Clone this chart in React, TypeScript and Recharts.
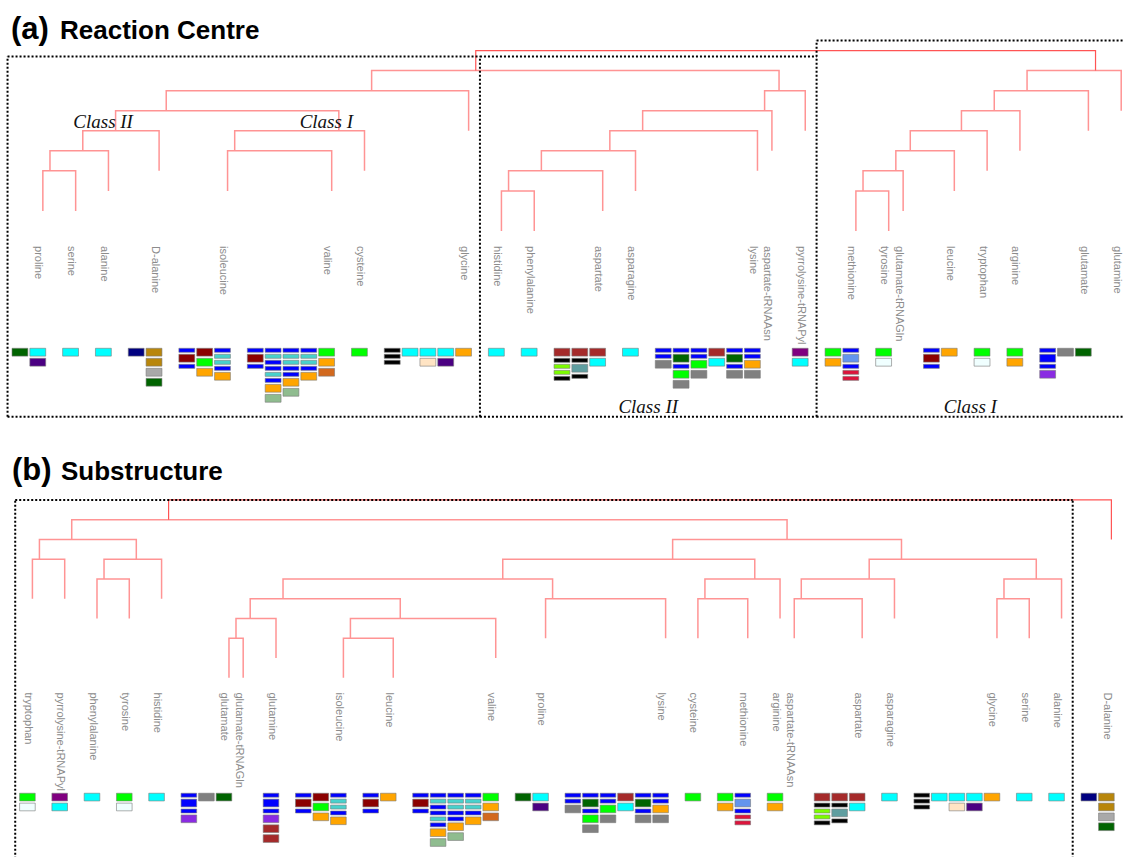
import React from 'react';
import { ComposedChart, XAxis, YAxis, Scatter, ReferenceArea } from 'recharts';

const WIDTH = 1124;
const HEIGHT = 857;

// colour codes used in the sequence boxes
const PALETTE: Record<string, string> = {
  lime: '#00ff00', cyan: '#00ffff', dkgreen: '#006400', indigo: '#4b0082', navy: '#000080',
  gold: '#b8860b', dgray: '#a9a9a9', gray: '#808080', blue: '#0000ff', dkred: '#8b0000',
  turq: '#48d1cc', orange: '#ffa500', sage: '#8fbc8f', choc: '#d2691e', black: '#000000',
  bisque: '#ffe4c4', purple: '#800080', brown: '#a52a2a', lawn: '#7cfc00', cadet: '#5f9ea0',
  cblue: '#6495ed', crimson: '#dc143c', azure: '#f0ffff', violet: '#8a2be2',
};

// one string per column, top to bottom; "~" marks a half-height box
const BOX_STACKS: Record<string, string[]> = {
  proline: ['dkgreen', 'cyan indigo'],
  serine: ['cyan'],
  alanine: ['cyan'],
  'D-alanine': ['navy', 'gold gold dgray dkgreen'],
  isoleucine: ['~blue dkred ~blue', 'dkred lime orange', '~blue ~turq ~turq ~blue orange'],
  valine: [
    '~blue dkred ~blue',
    '~blue ~turq ~blue ~blue ~turq ~blue orange sage',
    '~blue ~turq ~turq ~blue ~blue orange sage',
    '~blue ~turq ~turq ~blue orange',
    'lime orange choc',
  ],
  cysteine: ['lime'],
  glycine: ['~black ~black ~black', 'cyan', 'cyan bisque', 'cyan indigo', 'orange'],
  histidine: ['cyan'],
  phenylalanine: ['cyan'],
  aspartate: ['brown ~black ~lawn ~lawn ~black', 'brown ~black cadet ~black', 'brown cyan'],
  asparagine: ['cyan'],
  lysine: [
    '~blue ~blue gray',
    '~blue dkgreen ~blue lime gray',
    '~blue ~blue lime gray',
    'brown cyan',
    '~blue dkgreen ~blue gray',
    '~blue ~blue orange gray',
  ],
  'aspartate-tRNAAsn': [],
  'pyrrolysine-tRNAPyl': ['purple cyan'],
  methionine: ['lime orange', '~blue cblue ~blue ~crimson ~crimson'],
  tyrosine: ['lime azure'],
  'glutamate-tRNAGln': [],
  leucine: ['~blue dkred ~blue', 'orange'],
  tryptophan: ['lime azure'],
  arginine: ['lime orange'],
  glutamate: ['~blue blue ~blue violet', 'gray', 'dkgreen'],
  glutamine: ['~blue blue ~blue violet brown brown'],
};

const reactionOrder = [
  'proline', 'serine', 'alanine', 'D-alanine', 'isoleucine', 'valine', 'cysteine', 'glycine',
  'histidine', 'phenylalanine', 'aspartate', 'asparagine', 'lysine', 'aspartate-tRNAAsn',
  'pyrrolysine-tRNAPyl', 'methionine', 'tyrosine', 'glutamate-tRNAGln', 'leucine', 'tryptophan',
  'arginine', 'glutamate', 'glutamine',
];

// [left, right, height]; "#k" refers to the k-th merge
const reactionMerges: [string, string, number][] = [
  ['proline', 'serine', 3],
  ['#0', 'alanine', 4],
  ['#1', 'D-alanine', 5],
  ['isoleucine', 'valine', 4],
  ['#3', 'cysteine', 5],
  ['#2', '#4', 6],
  ['#5', 'glycine', 7],
  ['histidine', 'phenylalanine', 2],
  ['#7', 'aspartate', 3],
  ['#8', 'asparagine', 4],
  ['#9', 'lysine', 5],
  ['#10', 'aspartate-tRNAAsn', 6],
  ['#11', 'pyrrolysine-tRNAPyl', 7],
  ['#6', '#12', 8],
  ['methionine', 'tyrosine', 2],
  ['#14', 'glutamate-tRNAGln', 3],
  ['#15', 'leucine', 4],
  ['#16', 'tryptophan', 5],
  ['#17', 'arginine', 6],
  ['#18', 'glutamate', 7],
  ['#19', 'glutamine', 8],
  ['#13', '#20', 9],
];

const substructureOrder = [
  'tryptophan', 'pyrrolysine-tRNAPyl', 'phenylalanine', 'tyrosine', 'histidine', 'glutamate',
  'glutamate-tRNAGln', 'glutamine', 'isoleucine', 'leucine', 'valine', 'proline', 'lysine',
  'cysteine', 'methionine', 'arginine', 'aspartate-tRNAAsn', 'aspartate', 'asparagine',
  'glycine', 'serine', 'alanine', 'D-alanine',
];

const substructureMerges: [string, string, number][] = [
  ['tryptophan', 'pyrrolysine-tRNAPyl', 6],
  ['phenylalanine', 'tyrosine', 5],
  ['#1', 'histidine', 6],
  ['#0', '#2', 7],
  ['glutamate', 'glutamate-tRNAGln', 2],
  ['#4', 'glutamine', 3],
  ['isoleucine', 'leucine', 2],
  ['#6', 'valine', 3],
  ['#5', '#7', 4],
  ['proline', 'lysine', 4],
  ['#8', '#9', 5],
  ['cysteine', 'methionine', 4],
  ['#11', 'arginine', 5],
  ['#10', '#12', 6],
  ['aspartate-tRNAAsn', 'aspartate', 4],
  ['#14', 'asparagine', 5],
  ['glycine', 'serine', 4],
  ['#16', 'alanine', 5],
  ['#15', '#17', 6],
  ['#13', '#18', 7],
  ['#3', '#19', 8],
  ['#20', 'D-alanine', 9],
];

// layout, x in column steps, y in tree levels
const BOX_W = 0.89;
const GROUP_STEP = 1.84;
const EMPTY_STEP = 0.84;
const EMPTY_LINE = 1.54;
const LINE_OFFSET = 0.73;
const SPLIT_OFFSET = 0.4; // stem sits just right of the left subtree's last leaf
const LEAF_DROP = 2;
const LABEL_LEVEL = -0.75;
const STACK_TOP = -5.85;
const FULL_H = 0.39;
const THIN_H = 0.2;
const FULL_PITCH = 0.5;
const THIN_PITCH = 0.3;

const LINK_COLOR = '#ff9494';
const ROOT_COLOR = '#ff5454';
const SANS = '"Liberation Sans", Arial, Helvetica, sans-serif';
const SERIF = '"Liberation Serif", "Times New Roman", serif';

type Pt = { x: number; y: number };
type Geom = { top: number; height: number; x0: number; colPx: number; base: number; levelPx: number };
type Frame = { first: string; last: string; top: number; note?: string };
type NodeNote = { merge: number; text: string; dx: number; dy: number };

function buildPanel(order: string[], merges: [string, string, number][]) {
  const leafX: Record<string, number> = {};
  const span: Record<string, [number, number]> = {};
  const cols: { x: number; stack: string }[] = [];
  let cursor = 0;
  let lastCol = 0;
  order.forEach((name) => {
    const stacks = BOX_STACKS[name] ?? [];
    if (!stacks.length) {
      leafX[name] = lastCol + EMPTY_LINE;
      cursor += EMPTY_STEP;
      return;
    }
    stacks.forEach((stack, i) => cols.push({ x: cursor + i, stack }));
    lastCol = cursor + stacks.length - 1;
    span[name] = [cursor, lastCol + BOX_W];
    leafX[name] = lastCol + LINE_OFFSET;
    cursor = lastCol + GROUP_STEP;
  });

  const nodes: { x: number; h: number; edge: number }[] = [];
  const links: { points: Pt[]; root: boolean }[] = [];
  merges.forEach(([a, b, h], i) => {
    const end = (ref: string) => {
      if (ref.startsWith('#')) {
        const n = nodes[Number(ref.slice(1))];
        return { x: n.x, y: n.h, edge: n.edge };
      }
      return { x: leafX[ref], y: h - LEAF_DROP, edge: leafX[ref] };
    };
    const l = end(a);
    const r = end(b);
    nodes.push({ x: l.edge + SPLIT_OFFSET, h, edge: r.edge });
    links.push({
      points: [{ x: l.x, y: l.y }, { x: l.x, y: h }, { x: r.x, y: h }, { x: r.x, y: r.y }],
      root: i === merges.length - 1,
    });
  });

  const boxes: { x1: number; x2: number; y1: number; y2: number; fill: string }[] = [];
  cols.forEach((c) => {
    let y = STACK_TOP;
    c.stack.split(' ').forEach((tok) => {
      const thin = tok.startsWith('~');
      const h = thin ? THIN_H : FULL_H;
      boxes.push({ x1: c.x, x2: c.x + BOX_W, y1: y - h, y2: y, fill: PALETTE[tok.replace('~', '')] });
      y -= thin ? THIN_PITCH : FULL_PITCH;
    });
  });

  const labels = order.map((name) => ({ x: leafX[name], y: LABEL_LEVEL, name }));
  return { span, nodes, links, boxes, labels };
}

const Empty = () => <g />;

const LeafLabel = (props: any) => {
  const { cx, cy, payload } = props;
  const x = cx - 7.5;
  return (
    <text x={x} y={cy} transform={`rotate(90 ${x} ${cy})`} fontSize={11} fontFamily={SANS} fill="#8c8c8c">
      {payload.name}
    </text>
  );
};

const NoteLabel = (props: any) => {
  const { cx, cy, payload } = props;
  return (
    <text x={cx} y={cy} textAnchor="middle" fontSize={19} fontStyle="italic" fontFamily={SERIF} fill="#111">
      {payload.text}
    </text>
  );
};

function DendroPanel({ order, merges, geom, frames, frameBottom, noteLevel, nodeNotes }: {
  order: string[];
  merges: [string, string, number][];
  geom: Geom;
  frames: Frame[];
  frameBottom: number;
  noteLevel: number;
  nodeNotes: NodeNote[];
}) {
  const { span, nodes, links, boxes, labels } = buildPanel(order, merges);
  const xMin = -geom.x0 / geom.colPx;
  const xMax = (WIDTH - geom.x0) / geom.colPx;
  const yMin = (geom.base - geom.top - geom.height) / geom.levelPx;
  const yMax = (geom.base - geom.top) / geom.levelPx;

  const filled = order.filter((n) => span[n]);
  const frameRects = frames.map((f) => {
    const i = filled.indexOf(f.first);
    const j = filled.indexOf(f.last);
    const left = i === 0 ? span[f.first][0] - 0.25 : (span[filled[i - 1]][1] + span[f.first][0]) / 2;
    const right = j === filled.length - 1 ? xMax + 1 : (span[f.last][1] + span[filled[j + 1]][0]) / 2;
    return { ...f, left, right };
  });

  // dotted frame edges; a border shared by two neighbouring frames is drawn once
  const frameEdges: Pt[][] = [];
  frameRects.forEach((f, i) => {
    const prev = frameRects[i - 1];
    const shared = prev && Math.abs(prev.right - f.left) < 1e-6;
    frameEdges.push([{ x: f.left, y: f.top }, { x: f.right, y: f.top }]);
    frameEdges.push([{ x: f.left, y: frameBottom }, { x: f.right, y: frameBottom }]);
    frameEdges.push([{ x: f.left, y: frameBottom }, { x: f.left, y: shared ? Math.max(f.top, prev.top) : f.top }]);
    const next = frameRects[i + 1];
    if (!next || Math.abs(next.left - f.right) > 1e-6) {
      frameEdges.push([{ x: f.right, y: frameBottom }, { x: f.right, y: f.top }]);
    }
  });

  const notes = [
    ...nodeNotes.map((n) => ({ x: nodes[n.merge].x + n.dx, y: nodes[n.merge].h + n.dy, text: n.text })),
    ...frameRects
      .filter((f) => f.note)
      .map((f) => ({ x: (f.left + Math.min(f.right, xMax)) / 2, y: noteLevel, text: f.note as string })),
  ];

  return (
    <div style={{ position: 'absolute', left: 0, top: geom.top }}>
      <ComposedChart width={WIDTH} height={geom.height} margin={{ top: 0, right: 0, bottom: 0, left: 0 }}>
        <XAxis type="number" dataKey="x" domain={[xMin, xMax]} allowDataOverflow hide />
        <YAxis type="number" dataKey="y" domain={[yMin, yMax]} allowDataOverflow hide />
        {boxes.map((b, i) => (
          <ReferenceArea
            key={`box-${i}`}
            x1={b.x1}
            x2={b.x2}
            y1={b.y1}
            y2={b.y2}
            fill={b.fill}
            fillOpacity={1}
            stroke="#7a7a7a"
            strokeOpacity={0.6}
            strokeWidth={1}
          />
        ))}
        {links.map((l, i) => (
          <Scatter
            key={`link-${i}`}
            data={l.points}
            fill={l.root ? ROOT_COLOR : LINK_COLOR}
            line={{ stroke: l.root ? ROOT_COLOR : LINK_COLOR, strokeWidth: l.root ? 1.2 : 1.5 }}
            shape={Empty}
            isAnimationActive={false}
          />
        ))}
        {frameEdges.map((e, i) => (
          <Scatter
            key={`frame-${i}`}
            data={e}
            fill="#000"
            line={{ stroke: '#000', strokeWidth: 2, strokeDasharray: '2 2' }}
            shape={Empty}
            isAnimationActive={false}
          />
        ))}
        <Scatter data={labels} shape={LeafLabel} isAnimationActive={false} />
        <Scatter data={notes} shape={NoteLabel} isAnimationActive={false} />
      </ComposedChart>
    </div>
  );
}

const REACTION_GEOM: Geom = { top: 0, height: 440, x0: 12, colPx: 17.83, base: 231, levelPx: 20.05 };
const SUBSTRUCTURE_GEOM: Geom = { top: 440, height: 417, x0: 19.6, colPx: 17.55, base: 677.7, levelPx: 19.75 };

const REACTION_FRAMES: Frame[] = [
  { first: 'proline', last: 'glycine', top: 8.7 },
  { first: 'histidine', last: 'pyrrolysine-tRNAPyl', top: 8.7, note: 'Class II' },
  { first: 'methionine', last: 'glutamine', top: 9.5, note: 'Class I' },
];
const SUBSTRUCTURE_FRAMES: Frame[] = [{ first: 'tryptophan', last: 'alanine', top: 9 }];

const REACTION_NOTES: NodeNote[] = [
  { merge: 2, text: 'Class II', dx: -0.7, dy: 0.13 },
  { merge: 4, text: 'Class I', dx: -0.7, dy: 0.13 },
];

export default function App() {
  return (
    <div style={{ position: 'absolute', left: 0, top: 0, width: WIDTH, height: HEIGHT, background: '#fff', overflow: 'hidden' }}>
      <DendroPanel
        order={reactionOrder}
        merges={reactionMerges}
        geom={REACTION_GEOM}
        frames={REACTION_FRAMES}
        frameBottom={-9.26}
        noteLevel={-9.08}
        nodeNotes={REACTION_NOTES}
      />
      <DendroPanel
        order={substructureOrder}
        merges={substructureMerges}
        geom={SUBSTRUCTURE_GEOM}
        frames={SUBSTRUCTURE_FRAMES}
        frameBottom={-12}
        noteLevel={-9.08}
        nodeNotes={[]}
      />
      <svg width={WIDTH} height={HEIGHT} style={{ position: 'absolute', left: 0, top: 0, pointerEvents: 'none' }}>
        <g fontFamily={SANS} fontWeight="bold" fill="#000">
          <text x={11} y={38.5} fontSize={31}>(a)</text>
          <text x={60} y={38.5} fontSize={26}>Reaction Centre</text>
          <text x={12} y={479.5} fontSize={31}>(b)</text>
          <text x={61} y={479.5} fontSize={26}>Substructure</text>
        </g>
      </svg>
    </div>
  );
}
